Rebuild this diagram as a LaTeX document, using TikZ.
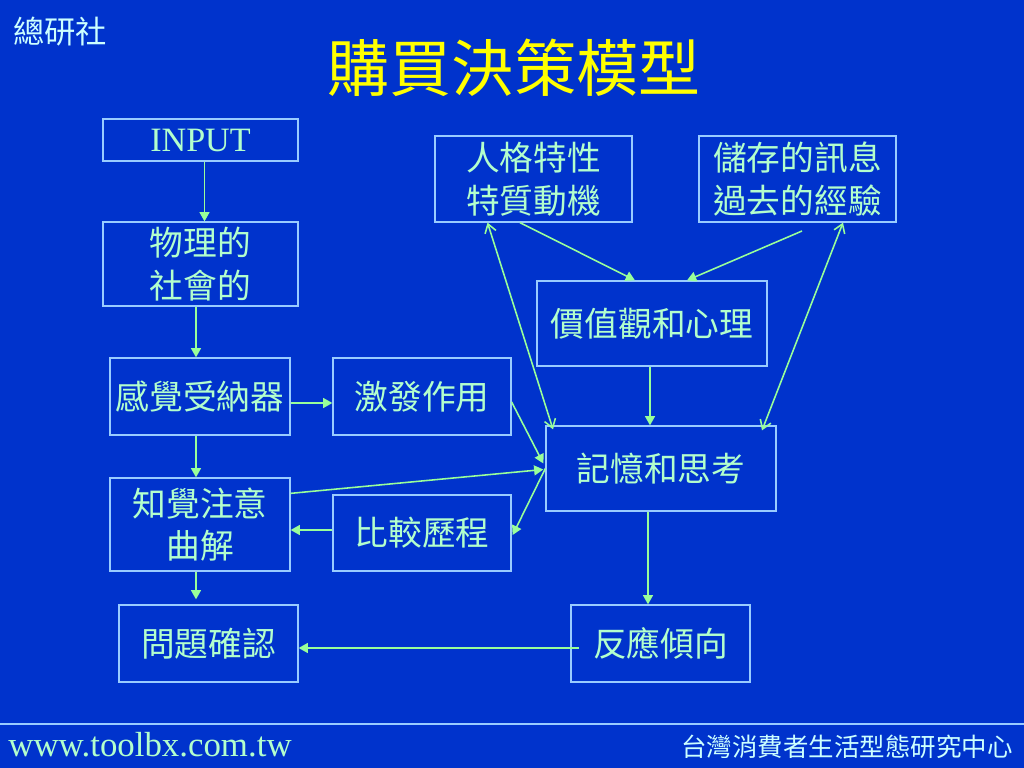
\documentclass[tikz,border=0pt]{standalone}
\usepackage{fontspec}
\setmainfont{Liberation Serif}
\newfontfamily\cjk{Noto Sans CJK TC}
\usetikzlibrary{arrows.meta}
\definecolor{bgblue}{HTML}{0033CC}
\definecolor{boxline}{HTML}{99CCFF}
\definecolor{boxtext}{HTML}{B3FFCC}
\definecolor{arrowgreen}{HTML}{99FF99}
\definecolor{titleyellow}{HTML}{FFFF00}
\definecolor{footcyan}{HTML}{CCFFFF}

\begin{document}
\begin{tikzpicture}[x=0.703125pt, y=-0.703125pt,
        box/.style 2 args={draw=boxline, line width=0.9pt, text=boxtext,
            font=\cjk\fontsize{23.7}{30}\selectfont, align=center, inner sep=0pt,
            minimum width=#1*0.703125pt, minimum height=#2*0.703125pt},
        arr/.style={draw=arrowgreen, line width=1.1pt,
            -{Triangle[length=6.5pt, width=7pt]}},
        twoway/.style={draw=arrowgreen, line width=1.1pt,
            {Straight Barb[length=6pt, width=8pt]}-{Straight Barb[length=6pt, width=8pt]}}]
        % Sizes
        \pgfmathsetmacro{\px}{0.703125}
        \fill[bgblue] (0,0) rectangle (1024,768);
        \useasboundingbox (0,0) rectangle (1024,768);

        % header and footer
        \node[text=footcyan, font=\cjk\fontsize{22}{26}\selectfont] (club) at (60,32) {總研社};
        \node[text=titleyellow, font=\cjk\fontsize{43.6}{50}\selectfont] (title) at (514,68) {購買決策模型};
        \draw[boxline, line width=1pt] (0,724) -- (1024,724);
        \node[text=boxtext, font=\fontsize{24.5}{28}\selectfont] (url) at (150,745) {www.toolbx.com.tw};
        \node[text=footcyan, font=\cjk\fontsize{17.9}{22}\selectfont] (center) at (847,747) {台灣消費者生活型態研究中心};

        % boxes, left column
        \node[box={195}{42}, font=\fontsize{24}{28}\selectfont] (input) at (200.5,140) {INPUT};
        \node[box={195}{84}] (phys) at (200.5,264) {物理的\\社會的};
        \node[box={180}{77}] (sense) at (200,396.5) {感覺受納器};
        \node[box={180}{93}] (percept) at (200,524.5) {知覺注意\\曲解};
        \node[box={179}{77}] (problem) at (208.5,643.5) {問題確認};

        % boxes, middle and right
        \node[box={178}{77}] (arouse) at (422,396.5) {激發作用};
        \node[box={178}{76}] (compare) at (422,533) {比較歷程};
        \node[box={197}{86}] (persona) at (533.5,179) {人格特性\\特質動機};
        \node[box={197}{86}] (memstore) at (797.5,179) {儲存的訊息\\過去的經驗};
        \node[box={230}{85}] (values) at (652,323.5) {價值觀和心理};
        \node[box={230}{85}] (memory) at (661,468.5) {記憶和思考};
        \node[box={179}{77}] (response) at (660.5,643.5) {反應傾向};
        \coordinate (storeout) at (802,231);

        % left chain
        \draw[arr] ([xshift=4*\px]input.south) -- ([xshift=4*\px]phys.north);
        \draw[arr] ([xshift=-4.5*\px]phys.south) -- ([xshift=-4*\px]sense.north);
        \draw[arr] ([yshift=-6.5*\px]sense.east) -- ([yshift=-6.5*\px]arouse.west);
        \draw[arr] ([xshift=-4*\px]sense.south) -- ([xshift=-4*\px]percept.north);
        \draw[arr] ([xshift=-4*\px]percept.south) -- ([xshift=-4*\px, yshift=5*\px]percept.south |- problem.north);

        % into and out of memory
        \draw[arr] ([yshift=-16*\px]percept.north east) -- ([xshift=-2*\px, yshift=-1*\px]memory.west);
        \draw[arr] ([yshift=-5.5*\px]arouse.east) -- ([xshift=-2*\px, yshift=5*\px]memory.west);
        \draw[arr] (memory.west) -- ([xshift=1*\px, yshift=-2*\px]compare.east);
        \draw[arr] ([yshift=3*\px]compare.west) -- ([yshift=3*\px]compare.west -| percept.east);
        \draw[arr] ([xshift=-13*\px]memory.south) -- ([xshift=-13*\px]memory.south |- response.north);
        \draw[arr] ([xshift=9*\px, yshift=-4.5*\px]response.west) -- ([yshift=-4.5*\px]response.west -| problem.east);

        % top part
        \draw[arr] ([xshift=-2*\px]values.south) -- ([xshift=-2*\px]values.south |- memory.north);
        \draw[arr] ([xshift=-13.5*\px]persona.south) -- ([xshift=-17*\px]values.north);
        \draw[arr] (storeout) -- ([xshift=35*\px]values.north);
        \draw[twoway] ([xshift=-46*\px]persona.south) -- ([xshift=-108*\px, yshift=-4*\px]memory.north);
        \draw[twoway] ([xshift=45.5*\px]memstore.south) -- ([xshift=101*\px, yshift=-5*\px]memory.north);
\end{tikzpicture}
\end{document}
